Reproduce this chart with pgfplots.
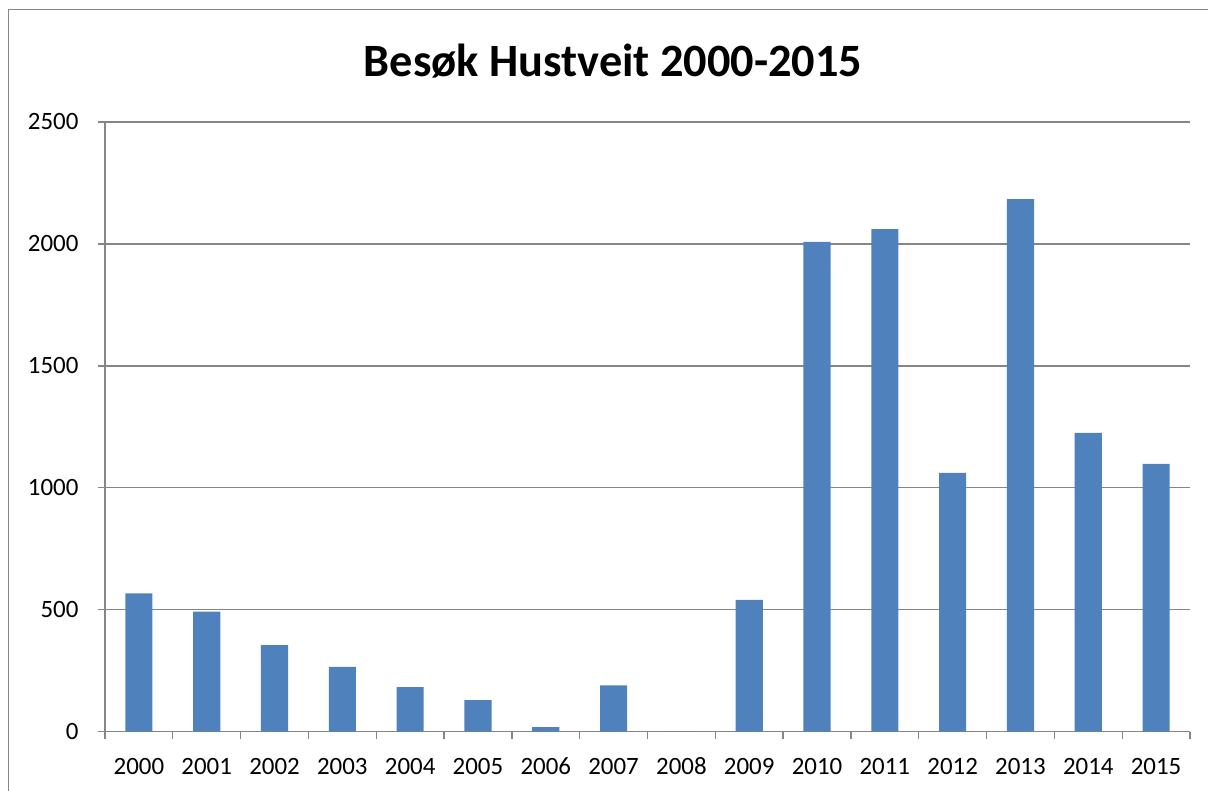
\documentclass[border=0pt]{standalone}
\usepackage{pgfplots}
\pgfplotsset{compat=1.18}
\usepackage{fontspec}
\setmainfont{Carlito}
\definecolor{barblue}{HTML}{4F81BD}
\definecolor{gridgray}{HTML}{868686}
\begin{document}
\begin{tikzpicture}[x=1bp,y=1bp]
\useasboundingbox (0,0) rectangle (1208,791);
\clip (0,0) rectangle (1208,791);
\draw[gridgray,line width=1.5bp] (8.5,-20) -- (8.5,781.5) -- (1230,781.5);
\node[font=\fontsize{46.5}{54}\selectfont\bfseries] at (613,730) {Besøk Hustveit 2000-2015};
\begin{axis}[
  at={(105bp,59.3bp)}, anchor=south west,
  scale only axis, width=1085bp, height=609.7bp,
  xmin=-0.5, xmax=15.5, ymin=0, ymax=2500,
  axis x line*=bottom, axis y line*=left,
  axis line style={gridgray,line width=1.3bp},
  x axis line style={-}, y axis line style={-},
  ytick={0,500,...,2500},
  ymajorgrids, major grid style={gridgray,line width=1.3bp},
  xtick={-0.5,0.5,...,15.5},
  x tick label as interval,
  xticklabels={2000,2001,2002,2003,2004,2005,2006,2007,2008,2009,2010,2011,2012,2013,2014,2015},
  tick align=outside, major tick length=7bp,
  tick style={gridgray,line width=1.3bp},
  tick label style={font=\fontsize{25}{28}\selectfont, text=black},
  /pgf/number format/assume math mode=true,
  /pgf/number format/set thousands separator={},
  yticklabel style={xshift=-16bp},
  xticklabel style={yshift=-16bp, text height=16bp, text depth=0bp},
  ybar, bar width=27.1bp,
]
\addplot[fill=barblue, draw=none] coordinates {
(0,567) (1,492) (2,355) (3,266) (4,183) (5,129) (6,19) (7,190)
(8,0) (9,541) (10,2008) (11,2061) (12,1061) (13,2184) (14,1225) (15,1098)};
\end{axis}
\end{tikzpicture}
\end{document}
